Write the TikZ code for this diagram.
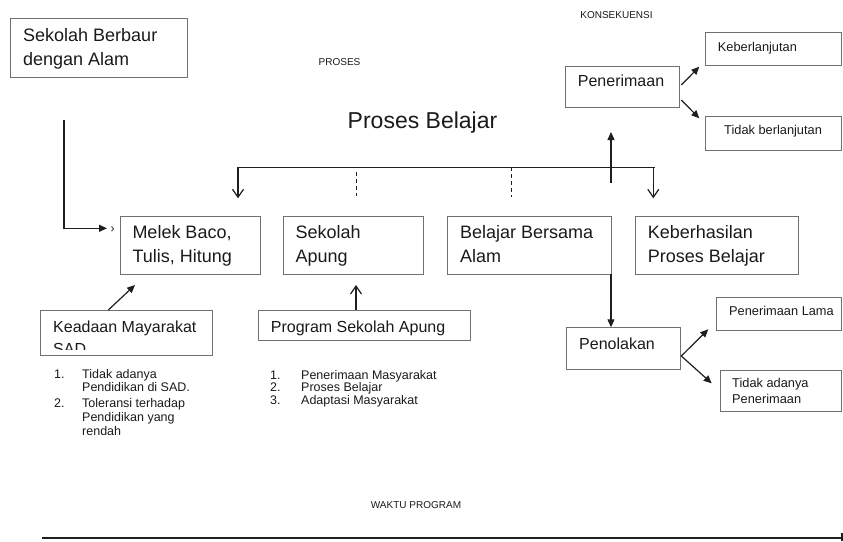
\documentclass[tikz,border=0pt]{standalone}
\usepackage{fontspec}
\setmainfont{Liberation Sans}
\usetikzlibrary{arrows.meta}
\definecolor{boxgray}{HTML}{707070}
\definecolor{txtcol}{HTML}{1A1A1A}
\definecolor{linecol}{HTML}{1E1E1E}
\begin{document}
\begin{tikzpicture}[x=1pt,y=-1pt,
  box/.style={draw=boxgray, line width=0.9pt, rectangle, inner sep=0pt, outer sep=0pt, anchor=north west},
  txt/.style={anchor=base west, inner sep=0pt, text=txtcol},
  ctxt/.style={anchor=base, inner sep=0pt, text=txtcol},
  big/.style={font=\fontsize{18}{24}\selectfont},
  mid/.style={font=\fontsize{16}{20}\selectfont},
  sml/.style={font=\fontsize{12.8}{15}\selectfont},
  lst/.style={font=\fontsize{12.5}{15}\selectfont},
  tiny/.style={font=\fontsize{10}{12}\selectfont},
  conn/.style={draw=linecol, line width=1.2pt},
  fillarrow/.style={conn, -{Triangle[length=8pt,width=7pt]}},
  openarrow/.style={conn, -{Straight Barb[length=8pt,width=11pt]}},
  dashline/.style={draw=linecol, line width=1pt, dash pattern=on 4pt off 3pt}]
\useasboundingbox (0,0) rectangle (843,541);

% ---- boxes ----
\node[box, minimum width=177pt, minimum height=58.6pt] (sb) at (10.7,18.7) {};
\node[box, minimum width=140pt, minimum height=58.3pt] (mb) at (120,216) {};
\node[box, minimum width=140pt, minimum height=58.3pt] (sa) at (283.3,216) {};
\node[box, minimum width=163.7pt, minimum height=58.3pt] (bba) at (447.3,216) {};
\node[box, minimum width=162.6pt, minimum height=58.3pt] (kpb) at (635.7,216) {};
\node[box, minimum width=113.6pt, minimum height=41.3pt] (pen) at (565.7,66) {};
\node[box, minimum width=135.3pt, minimum height=33.4pt] (kbl) at (705.7,32.3) {};
\node[box, minimum width=135.3pt, minimum height=34pt] (tbl) at (705.7,116) {};
\node[box, minimum width=171.6pt, minimum height=45.7pt] (kms) at (40.7,310) {};
\node[box, minimum width=211.7pt, minimum height=30.4pt] (psa) at (258.3,310.3) {};
\node[box, minimum width=114pt, minimum height=41.7pt] (pol) at (566.7,327.3) {};
\node[box, minimum width=125pt, minimum height=32.7pt] (pl) at (716,297.3) {};
\node[box, minimum width=121pt, minimum height=41pt] (tap) at (720,370) {};

% ---- texts in boxes ----
\node[txt, big] (sbt1) at (23,41.5) {Sekolah Berbaur};
\node[txt, big] (sbt2) at (23,65.5) {dengan Alam};
\node[txt, big] (mbt1) at (132.3,238.2) {Melek Baco,};
\node[txt, big] (mbt2) at (132.3,262.2) {Tulis, Hitung};
\node[txt, big] (sat1) at (295.3,238.2) {Sekolah};
\node[txt, big] (sat2) at (295.3,262.2) {Apung};
\node[txt, big] (bbt1) at (460,238.2) {Belajar Bersama};
\node[txt, big] (bbt2) at (460,262.2) {Alam};
\node[txt, big] (kpt1) at (647.7,238.2) {Keberhasilan};
\node[txt, big] (kpt2) at (647.7,262.2) {Proses Belajar};
\node[txt, mid] (pent) at (577.7,86.5) {Penerimaan};
\node[txt, sml] (kblt) at (717.7,51.4) {Keberlanjutan};
\node[txt, sml] (tblt) at (724,134.7) {Tidak berlanjutan};
\node[txt, mid] (kmst1) at (53,332.6) {Keadaan Mayarakat};
\begin{scope}
  \clip (41,300) rectangle (212,349.3);
  \node[txt, mid] (kmst2) at (53,354.2) {SAD};
\end{scope}
\node[txt, mid] (psat) at (270.7,332.5) {Program Sekolah Apung};
\node[txt, mid] (polt) at (579,349.1) {Penolakan};
\node[txt, sml] (plt) at (729,315.7) {Penerimaan Lama};
\node[txt, sml] (tapt1) at (732,387) {Tidak adanya};
\node[txt, sml] (tapt2) at (732,403.7) {Penerimaan};

% ---- free texts ----
\node[ctxt, tiny] (kons) at (616.5,18.6) {KONSEKUENSI};
\node[ctxt, tiny] (pros) at (339.5,65.3) {PROSES};
\node[ctxt, font=\fontsize{23}{28}\selectfont] (pbj) at (422.5,128.3) {Proses Belajar};
\node[ctxt, tiny] (waktu) at (416,508.6) {WAKTU PROGRAM};
\node[txt, font=\fontsize{12}{12}\selectfont] (stray) at (110.5,232) {›};

% ---- lists ----
\node[txt, lst] (l1n) at (54,378) {1.};
\node[txt, lst] (l1a) at (82,378) {Tidak adanya};
\node[txt, lst] (l1b) at (82,391.5) {Pendidikan di SAD.};
\node[txt, lst] (l2n) at (54,407.5) {2.};
\node[txt, lst] (l2a) at (82,407.5) {Toleransi terhadap};
\node[txt, lst] (l2b) at (82,421.5) {Pendidikan yang};
\node[txt, lst] (l2c) at (82,435.5) {rendah};
\node[txt, lst] (r1n) at (270,379) {1.};
\node[txt, lst] (r1) at (301,379) {Penerimaan Masyarakat};
\node[txt, lst] (r2n) at (270,391.5) {2.};
\node[txt, lst] (r2) at (301,391.5) {Proses Belajar};
\node[txt, lst] (r3n) at (270,404) {3.};
\node[txt, lst] (r3) at (301,404) {Adaptasi Masyarakat};

% ---- coordinates ----
\coordinate (sbs) at (64,120);
\coordinate (sbc) at (64,228.3);
\coordinate (sbe) at (107,228.3);
\coordinate (brL) at (238,167.3);
\coordinate (brR) at (655.3,167.3);
\coordinate (brA) at (238,198.3);
\coordinate (brBx) at (653.3,167.3);
\coordinate (brB) at (653.3,198.3);
\coordinate (d1a) at (356,172);
\coordinate (d1b) at (356,196);
\coordinate (d2a) at (511,167.3);
\coordinate (d2b) at (511,196.7);
\coordinate (upS) at (611,183);
\coordinate (upE) at (611,132);
\coordinate (tlL) at (42,538);
\coordinate (tlR) at (842,538);

% ---- connectors ----
\draw[fillarrow] (sbs) -- (sbc) -- (sbe);
\draw[conn] (brL) -- (brR);
\draw[openarrow] (brL) -- (brA);
\draw[openarrow] (brBx) -- (brB);
\draw[dashline] (d1a) -- (d1b);
\draw[dashline] (d2a) -- (d2b);
\draw[fillarrow] (upS) -- (upE);
\draw[fillarrow] (bba.south east) -- (pol.north -| bba.east);
\draw[fillarrow] (681.3,85) -- (699.3,66.7);
\draw[fillarrow] (681.3,100) -- (699.3,118.3);
\draw[fillarrow] (108.3,310) -- (135,285);
\draw[openarrow] (356,310.3) -- (356,285);
\draw[fillarrow] (681.3,356) -- (708.3,329.3);
\draw[fillarrow] (681.3,356) -- (711.7,383.3);
\draw[draw=linecol, line width=1.6pt] (tlL) -- (tlR);
\draw[draw=linecol, line width=1.2pt] (842,533) -- (842,541);
\end{tikzpicture}
\end{document}
